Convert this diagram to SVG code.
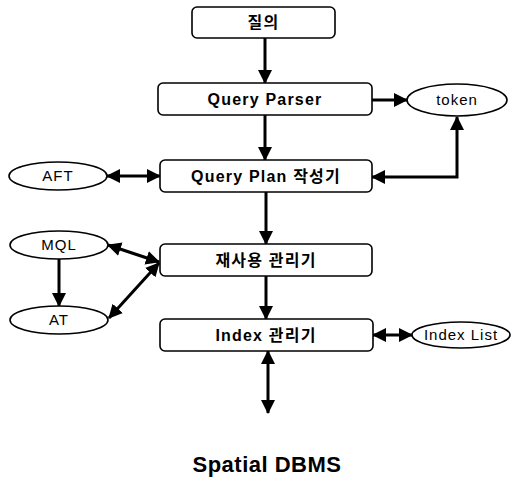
<svg xmlns="http://www.w3.org/2000/svg" width="511" height="481" viewBox="0 0 511 481">
<style>
.box{fill:#fff;stroke:#000;stroke-width:1.6}
.ell{fill:#fff;stroke:#000;stroke-width:1.6}
.t{font-family:"Liberation Sans","Noto Sans CJK KR",sans-serif;font-weight:bold;font-size:16px;letter-spacing:1.2px;text-anchor:middle;fill:#000}
.e{font-family:"Liberation Sans","Noto Sans CJK KR",sans-serif;font-size:15px;letter-spacing:1px;text-anchor:middle;fill:#000}
.c{fill:none;stroke:#000;stroke-width:3;marker-end:url(#ah)}
.b{marker-start:url(#ah)}
</style>
<defs>
<marker id="ah" markerUnits="userSpaceOnUse" markerWidth="14" markerHeight="14" refX="13" refY="7" orient="auto-start-reverse" viewBox="0 0 14 14">
<path d="M0,0 L14,7 L0,14 z" fill="#000"/>
</marker>
</defs>
<g id="connectors">
<path class="c" d="M265,38 V83"/>
<path class="c" d="M372,100 H407"/>
<path class="c" d="M265,115 V160"/>
<path class="c b" d="M457,117 V177 H372"/>
<path class="c b" d="M107,176 H160"/>
<path class="c" d="M266,192 V244"/>
<path class="c b" d="M108,245 L159,262"/>
<path class="c" d="M59,259 V306"/>
<path class="c b" d="M109,318 L159,263"/>
<path class="c" d="M266,276 V319"/>
<path class="c b" d="M373,335 H412"/>
<path class="c b" d="M268,351 V413"/>
</g>
<g id="query">
<rect class="box" x="192" y="7" width="143" height="31" rx="5"/>
<text class="t" x="263.5" y="28">질의</text>
</g>
<g id="parser">
<rect class="box" x="158" y="83" width="214" height="32" rx="5"/>
<text class="t" x="265" y="105">Query Parser</text>
</g>
<g id="token">
<ellipse class="ell" cx="457" cy="100" rx="50" ry="16"/>
<text class="e" x="457" y="105">token</text>
</g>
<g id="plan">
<rect class="box" x="160" y="160" width="212" height="32" rx="5"/>
<text class="t" x="266" y="182">Query Plan 작성기</text>
</g>
<g id="aft">
<ellipse class="ell" cx="58" cy="176" rx="49" ry="14"/>
<text class="e" x="58" y="181">AFT</text>
</g>
<g id="reuse">
<rect class="box" x="160" y="244" width="212" height="32" rx="5"/>
<text class="t" x="266" y="266">재사용 관리기</text>
</g>
<g id="mql">
<ellipse class="ell" cx="59" cy="245" rx="49" ry="14"/>
<text class="e" x="59" y="250">MQL</text>
</g>
<g id="at">
<ellipse class="ell" cx="59" cy="320" rx="49" ry="14"/>
<text class="e" x="59" y="325">AT</text>
</g>
<g id="index">
<rect class="box" x="160" y="319" width="213" height="32" rx="5"/>
<text class="t" x="266" y="341">Index 관리기</text>
</g>
<g id="indexlist">
<ellipse class="ell" cx="461" cy="335" rx="49" ry="13"/>
<text class="e" x="461" y="340">Index List</text>
</g>
<g id="dbms">
<text x="267" y="472" style="font-family:'Liberation Sans',sans-serif;font-weight:bold;font-size:22px;letter-spacing:0.5px;text-anchor:middle;fill:#000">Spatial DBMS</text>
</g>
</svg>
